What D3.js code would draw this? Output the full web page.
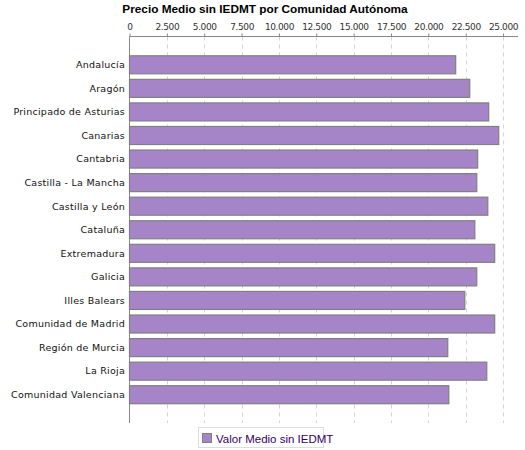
<!DOCTYPE html>
<html><head><meta charset="utf-8">
<script src="https://cdn.jsdelivr.net/npm/d3@7"></script>
<style>body{margin:0;background:#fff}svg{display:block}</style>
</head><body>
<script>
const categories = ["Andalucía","Aragón","Principado de Asturias","Canarias","Cantabria","Castilla - La Mancha","Castilla y León","Cataluña","Extremadura","Galicia","Illes Balears","Comunidad de Madrid","Región de Murcia","La Rioja","Comunidad Valenciana"];
const values = [21830,22770,24040,24710,23300,23240,23980,23110,24440,23240,22440,24440,21300,23910,21370];
const tickValues = [0,2500,5000,7500,10000,12500,15000,17500,20000,22500,25000];
const seriesName = "Valor Medio sin IEDMT";
const title = "Precio Medio sin IEDMT por Comunidad Autónoma";

(function(){
const W=525,H=450;
const mL=129.5,mR=518,mT=36.5,mB=423;
const svg=d3.select("body").append("svg").attr("width",W).attr("height",H);
const x=d3.scaleLinear().domain([0,26000]).range([mL,mR]);
const y=d3.scaleBand().domain(categories).range([mT+16.5,mB-16.5]).paddingInner(0.235).paddingOuter(0.1175);
const fmt=v=>d3.format(",")(v).replace(/,/g,".");

svg.append("text").attr("x",265).attr("y",12.5).attr("text-anchor","middle")
  .attr("font-family","Liberation Sans, Arial, sans-serif").attr("font-weight","bold").attr("font-size",11.8).attr("fill","#000").text(title);

svg.append("g").selectAll("line").data(tickValues.slice(1)).join("line")
  .attr("x1",d=>Math.round(x(d))+0.5).attr("x2",d=>Math.round(x(d))+0.5).attr("y1",mT).attr("y2",mB)
  .attr("stroke","#d4d4d4").attr("stroke-dasharray","4,4");

const ax=svg.append("g").attr("transform",`translate(0,${mT})`)
  .call(d3.axisTop(x).tickValues(tickValues).tickFormat(fmt).tickSize(3).tickPadding(4));
ax.select(".domain").attr("stroke","#888").attr("d",`M${mL},0H${mR}`);
ax.selectAll(".tick line").attr("stroke","#888");
ax.selectAll(".tick text").attr("font-family","DejaVu Sans, sans-serif").attr("font-size",9).attr("fill","#333").attr("letter-spacing","-0.4");

svg.append("line").attr("x1",mL).attr("x2",mL).attr("y1",mT).attr("y2",mB).attr("stroke","#888");

svg.append("g").selectAll("rect").data(categories).join("rect")
  .attr("x",mL).attr("y",d=>y(d)).attr("width",(d,i)=>x(values[i])-mL).attr("height",y.bandwidth())
  .attr("fill","#a585c8").attr("stroke","#808080").attr("stroke-width",1.2);

svg.append("g").selectAll("text").data(categories).join("text")
  .attr("x",125).attr("y",d=>y(d)+y.bandwidth()/2).attr("dy","0.35em").attr("text-anchor","end")
  .attr("font-family","DejaVu Sans, sans-serif").attr("font-size",9.5).attr("letter-spacing","0.25").attr("fill","#111").text(d=>d);

const lg=svg.append("g");
lg.append("rect").attr("x",198.5).attr("y",427.5).attr("width",125).attr("height",20).attr("fill","#fff").attr("stroke","#ddd");
lg.append("rect").attr("x",202.5).attr("y",433.5).attr("width",9).attr("height",9).attr("fill","#a585c8").attr("stroke","#808080");
lg.append("text").attr("x",216).attr("y",442.5).attr("font-family","Liberation Sans, Arial, sans-serif").attr("font-size",11.5).attr("fill","#330066").text(seriesName);
})();
</script>
</body></html>
